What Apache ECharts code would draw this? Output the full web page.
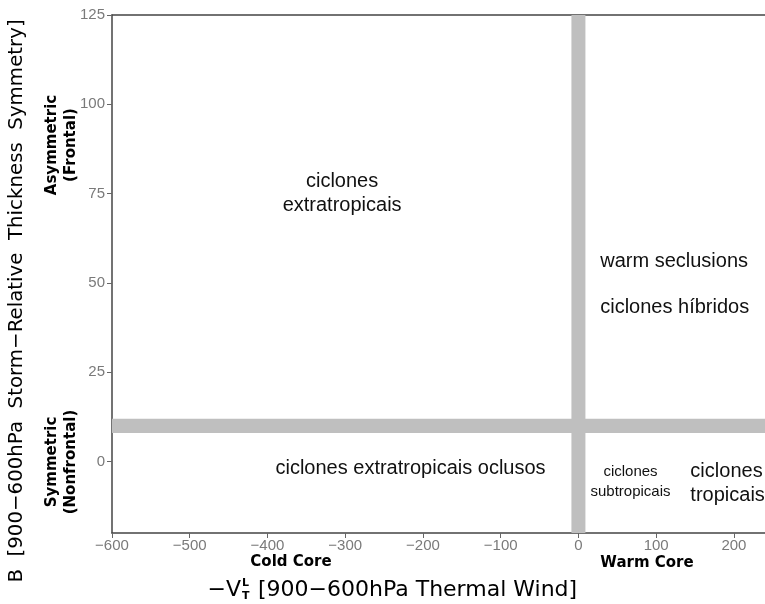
<!DOCTYPE html>
<html>
<head>
<meta charset="utf-8">
<script src="https://cdn.jsdelivr.net/npm/echarts@6/dist/echarts.min.js"></script>
<style>
  html, body { margin: 0; padding: 0; background: #ffffff; }
  #chart { width: 765px; height: 604px; }
</style>
</head>
<body>
<div id="chart"></div>
<script>
// Axis ranges and tick values of the cyclone phase space
const xRange = [-600, 240];
const yRange = [-20, 125];
const xTicks = [-600, -500, -400, -300, -200, -100, 0, 100, 200];
const yTicks = [0, 25, 50, 75, 100, 125];

// Threshold bands: thermal wind = 0 (cold/warm core), B = 10 (frontal/nonfrontal)
const coreBand = [-9, 9];
const frontBand = [8, 12];

// Regime names and where they sit in (thermal wind, B) space
const regionNames = [
  'ciclones\nextratropicais',
  'warm seclusions',
  'ciclones híbridos',
  'ciclones extratropicais oclusos',
  'ciclones\nsubtropicais',
  'ciclones\ntropicais'
];
const regionX = [-304, 28, 28, -216, 67, 144];
const regionY = [75, 56, 43, -2, -5.6, -6];

const minus = v => String(v).replace('-', '\u2212');
const axisColor = '#444444';
const textFont = 'Liberation Sans, Arial, sans-serif';
const titleFont = 'DejaVu Sans, sans-serif';

const chart = echarts.init(document.getElementById('chart'), null, { renderer: 'canvas' });

const regionStyle = [
  { fontSize: 20, align: 'center', pos: 'inside', lh: 24 },
  { fontSize: 20, align: 'left', pos: 'right', lh: 24 },
  { fontSize: 20, align: 'left', pos: 'right', lh: 24 },
  { fontSize: 20, align: 'center', pos: 'inside', lh: 24 },
  { fontSize: 15, align: 'center', pos: 'inside', lh: 20 },
  { fontSize: 20, align: 'left', pos: 'right', lh: 24 }
];

const regionData = regionNames.map((name, i) => ({
  value: [regionX[i], regionY[i]],
  name: name,
  label: {
    show: true,
    formatter: name,
    position: regionStyle[i].pos,
    distance: 0,
    align: regionStyle[i].align,
    verticalAlign: 'middle',
    fontSize: regionStyle[i].fontSize,
    lineHeight: regionStyle[i].lh,
    fontFamily: textFont,
    color: '#111111',
    opacity: 1
  }
}));

const option = {
  animation: false,
  backgroundColor: '#ffffff',
  grid: { left: 112, top: 15, right: 0, bottom: 71, containLabel: false },
  xAxis: [
    {
      type: 'value',
      min: xRange[0],
      max: xRange[1],
      position: 'bottom',
      splitLine: { show: false },
      axisLine: { show: true, onZero: false, lineStyle: { color: axisColor, width: 1.5 } },
      axisTick: { show: true, inside: false, length: 5, customValues: xTicks, lineStyle: { color: '#666' } },
      axisLabel: {
        customValues: xTicks,
        formatter: minus,
        margin: 5,
        fontSize: 15,
        fontFamily: textFont,
        color: '#7a7a7a'
      }
    },
    {
      type: 'value',
      min: xRange[0],
      max: xRange[1],
      position: 'top',
      splitLine: { show: false },
      axisLine: { show: true, onZero: false, lineStyle: { color: axisColor, width: 1.5 } },
      axisTick: { show: false },
      axisLabel: { show: false }
    }
  ],
  yAxis: {
    type: 'value',
    min: yRange[0],
    max: yRange[1],
    splitLine: { show: false },
    axisLine: { show: true, onZero: false, lineStyle: { color: axisColor, width: 1.5 } },
    axisTick: { show: true, inside: false, length: 5, customValues: yTicks, lineStyle: { color: '#666' } },
    axisLabel: {
      customValues: yTicks,
      formatter: minus,
      margin: 7,
      fontSize: 15,
      fontFamily: textFont,
      color: '#7a7a7a'
    }
  },
  series: [
    {
      type: 'scatter',
      xAxisIndex: 0,
      yAxisIndex: 0,
      symbolSize: 0,
      silent: true,
      z: 5,
      data: regionData,
      markArea: {
        silent: true,
        itemStyle: { color: '#bfbfbf', opacity: 1 },
        data: [
          [{ xAxis: coreBand[0] }, { xAxis: coreBand[1] }],
          [{ yAxis: frontBand[0] }, { yAxis: frontBand[1] }]
        ]
      }
    }
  ],
  graphic: [
    {
      type: 'text', x: 17, y: 301, rotation: Math.PI / 2,
      style: {
        text: 'B  [900\u2212600hPa  Storm\u2212Relative  Thickness  Symmetry]',
        font: '19.8px ' + titleFont, fill: '#000', textAlign: 'center', textVerticalAlign: 'middle'
      }
    },
    {
      type: 'text', x: 62, y: 145, rotation: Math.PI / 2,
      style: {
        text: 'Asymmetric\n(Frontal)', lineHeight: 19,
        font: 'bold 15px ' + titleFont, fill: '#000', textAlign: 'center', textVerticalAlign: 'middle'
      }
    },
    {
      type: 'text', x: 62, y: 462, rotation: Math.PI / 2,
      style: {
        text: 'Symmetric\n(Nonfrontal)', lineHeight: 19,
        font: 'bold 15px ' + titleFont, fill: '#000', textAlign: 'center', textVerticalAlign: 'middle'
      }
    },
    {
      type: 'text', x: 291, y: 562,
      style: { text: 'Cold Core', font: 'bold 15px ' + titleFont, fill: '#000', textAlign: 'center', textVerticalAlign: 'middle' }
    },
    {
      type: 'text', x: 647, y: 563,
      style: { text: 'Warm Core', font: 'bold 15px ' + titleFont, fill: '#000', textAlign: 'center', textVerticalAlign: 'middle' }
    },
    {
      type: 'text', x: 241, y: 590,
      style: { text: '\u2212V', font: '22px ' + titleFont, fill: '#000', textAlign: 'right', textVerticalAlign: 'middle' }
    },
    {
      type: 'text', x: 242, y: 583,
      style: { text: 'L', font: 'bold 11px ' + titleFont, fill: '#000', textAlign: 'left', textVerticalAlign: 'middle' }
    },
    {
      type: 'text', x: 242, y: 596,
      style: { text: 'T', font: 'bold 11px ' + titleFont, fill: '#000', textAlign: 'left', textVerticalAlign: 'middle' }
    },
    {
      type: 'text', x: 258, y: 590,
      style: { text: '[900\u2212600hPa Thermal Wind]', font: '22px ' + titleFont, fill: '#000', textAlign: 'left', textVerticalAlign: 'middle' }
    }
  ]
};

chart.setOption(option);
</script>
</body>
</html>
